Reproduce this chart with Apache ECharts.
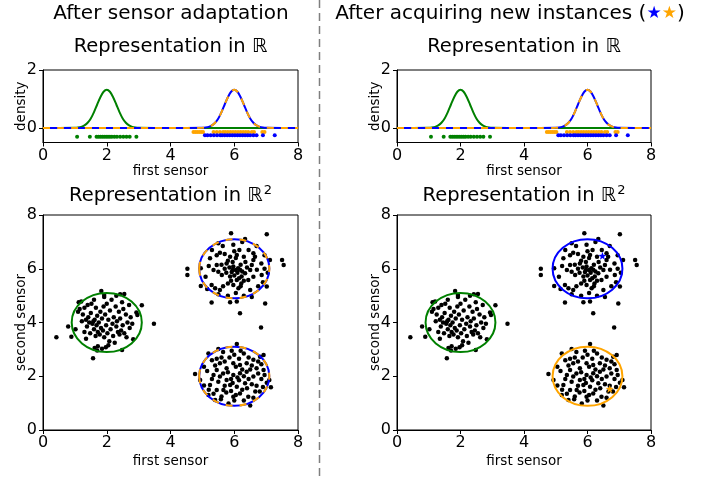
<!DOCTYPE html>
<html><head><meta charset="utf-8">
<script src="https://cdn.jsdelivr.net/npm/echarts@6/dist/echarts.min.js"></script>
<style>html,body{margin:0;padding:0;background:#fff}#c{width:709px;height:477px}</style>
</head><body><div id="c"></div>
<script>
// ---------- data ----------
const densityX = [0, 0.5, 1.0, 1.1, 1.2, 1.3, 1.4, 1.5, 1.6, 1.7, 1.8, 1.9, 2.0, 2.1, 2.2, 2.3, 2.4, 2.5, 2.6, 2.7, 2.8, 2.9, 3.0, 3.5, 4.0, 4.5, 5.0, 5.1, 5.2, 5.3, 5.4, 5.5, 5.6, 5.7, 5.8, 5.9, 6.0, 6.1, 6.2, 6.3, 6.4, 6.5, 6.6, 6.7, 6.8, 6.9, 7.0, 7.5, 8.0];
const greenDensity = [0, 0, 0.005, 0.015, 0.038, 0.088, 0.18, 0.33, 0.55, 0.81, 1.06, 1.25, 1.32, 1.25, 1.06, 0.81, 0.55, 0.33, 0.18, 0.088, 0.038, 0.015, 0.005, 0, 0, 0, 0, 0, 0, 0, 0, 0, 0, 0, 0, 0, 0, 0, 0, 0, 0, 0, 0, 0, 0, 0, 0, 0, 0];
const blueDensity = [0, 0, 0, 0, 0, 0, 0, 0, 0, 0, 0, 0, 0, 0, 0, 0, 0, 0, 0, 0, 0, 0, 0, 0, 0, 0, 0.005, 0.015, 0.038, 0.088, 0.18, 0.33, 0.55, 0.81, 1.06, 1.25, 1.32, 1.25, 1.06, 0.81, 0.55, 0.33, 0.18, 0.088, 0.038, 0.015, 0.005, 0, 0];
const orangeDensity = [0, 0, 0, 0, 0, 0, 0, 0, 0, 0, 0, 0, 0, 0, 0, 0, 0, 0, 0, 0, 0, 0, 0, 0, 0, 0, 0.005, 0.015, 0.038, 0.088, 0.18, 0.33, 0.55, 0.81, 1.06, 1.25, 1.32, 1.25, 1.06, 0.81, 0.55, 0.33, 0.18, 0.088, 0.038, 0.015, 0.005, 0, 0];

const greenRugX = [1.07, 1.47, 1.68, 1.74, 1.8, 1.86, 1.92, 1.98, 2.04, 2.1, 2.16, 2.24, 2.32, 2.42, 2.52, 2.62, 2.72, 2.93];
const orangeRugX = [4.72, 4.78, 4.84, 4.9, 4.96, 5.02, 5.35, 5.45, 5.55, 5.65, 5.72, 5.8, 5.88, 5.96, 6.04, 6.12, 6.2, 6.28, 6.36, 6.44, 6.55, 6.62, 6.88, 6.95];
const blueRugX = [5.08, 5.16, 5.26, 5.36, 5.46, 5.56, 5.62, 5.7, 5.78, 5.86, 5.94, 6.02, 6.1, 6.18, 6.26, 6.34, 6.42, 6.5, 6.6, 6.7, 6.9, 7.27];
const greenRugY = -0.3;
const orangeRugY = -0.14;
const blueRugY = -0.25;

const greenCluster = [[0.42,3.45],[0.79,3.85],[0.89,3.47],[1.57,2.67],[3.48,3.95],[3.1,4.64],[1.83,5.17],[1.92,5.02],[1.92,4.95],[2.42,5.05],[2.55,5.06],[1.2,4.78],[2.93,4.37],[2.96,4.28],[2.83,3.38],[2.48,2.98],[1.62,3.05],[1.72,3.12],[1.85,3.02],[1.97,3.08],[1.7,2.96],[1.1,4.4],[1.15,4.5],[1.25,4.3],[1.3,4.55],[1.35,4.1],[1.38,3.85],[1.42,4.2],[1.45,4.0],[1.48,3.6],[1.5,4.35],[1.52,4.7],[1.55,3.95],[1.58,4.05],[1.6,3.75],[1.62,4.1],[1.65,3.5],[1.66,4.55],[1.68,3.9],[1.7,4.25],[1.72,3.65],[1.75,4.0],[1.78,3.55],[1.8,4.4],[1.82,3.8],[1.85,4.15],[1.88,3.7],[1.9,4.6],[1.92,3.45],[1.95,4.3],[1.98,3.9],[2.0,4.7],[2.02,3.6],[2.05,4.1],[2.08,3.3],[2.1,4.45],[2.12,3.75],[2.15,4.85],[2.18,3.95],[2.2,3.5],[2.22,4.2],[2.25,3.25],[2.28,4.6],[2.3,3.85],[2.32,4.05],[2.35,3.65],[2.38,4.4],[2.4,3.55],[2.42,4.15],[2.45,3.7],[2.48,4.75],[2.5,3.9],[2.52,4.5],[2.55,3.6],[2.6,4.3],[2.62,3.45],[2.65,4.0],[2.7,4.65],[2.72,3.8],[2.75,4.2],[2.8,3.95],[1.3,3.65],[1.22,4.05],[1.4,4.65],[1.6,4.85],[1.35,3.4],[2.05,3.15],[2.3,5.0],[1.02,3.75],[1.12,4.75]];
const upperCluster = [[5.9,7.32],[6.34,7.11],[7.02,7.28],[5.5,6.95],[5.64,6.85],[5.97,6.89],[6.16,6.7],[6.08,6.51],[5.87,6.45],[6.6,6.58],[5.24,6.39],[6.6,6.33],[7.12,6.33],[7.5,6.33],[7.55,6.14],[4.53,6.0],[4.53,5.77],[4.95,6.02],[5.45,6.14],[5.76,6.2],[5.97,6.08],[6.18,5.96],[6.34,5.83],[6.55,6.14],[6.71,5.96],[6.86,5.77],[5.5,5.89],[5.61,5.77],[5.87,5.71],[6.08,5.58],[6.23,5.71],[6.44,5.58],[5.97,5.4],[6.13,5.27],[5.29,5.4],[5.4,5.27],[5.55,5.21],[6.5,5.21],[7.02,5.34],[4.95,5.36],[5.29,4.74],[5.87,4.75],[6.08,4.78],[6.97,4.71],[6.18,4.34],[6.84,3.81],[5.7,6.55],[5.8,6.3],[5.95,6.25],[6.05,6.4],[6.2,6.15],[6.3,6.45],[6.4,6.05],[6.25,5.9],[6.1,5.85],[5.95,5.95],[5.85,6.05],[5.7,6.0],[5.6,6.15],[5.75,5.85],[6.0,5.75],[6.15,5.65],[6.3,5.55],[5.9,5.55],[5.8,5.45],[6.05,5.1],[6.2,5.35],[6.35,6.25],[6.45,6.7],[6.7,6.85],[6.95,6.5],[6.85,6.2],[6.9,5.5],[6.75,5.35],[6.6,5.7],[5.35,5.95],[5.2,6.1],[5.45,6.5],[5.3,6.7],[5.55,6.6],[6.25,7.0],[6.0,6.65],[6.5,5.95],[6.05,5.95],[6.12,6.02],[5.92,5.88],[6.22,5.45],[5.65,5.35],[5.5,5.05],[6.3,5.0],[6.55,4.95],[5.8,5.0],[6.95,6.0],[7.05,5.85],[5.1,5.7],[5.15,5.25],[6.65,6.45]];
const lowerCluster = [[6.08,3.2],[5.5,3.01],[5.92,2.95],[6.92,2.79],[5.19,2.85],[4.77,2.08],[4.93,1.86],[5.05,1.66],[5.19,1.3],[5.4,1.12],[5.58,1.14],[5.82,0.99],[6.5,0.91],[6.66,1.43],[6.8,1.43],[7.02,1.76],[7.15,1.59],[7.1,1.86],[6.92,2.23],[6.81,2.73],[6.6,2.61],[6.39,2.48],[6.18,2.42],[5.97,2.48],[5.76,2.3],[5.55,2.48],[5.45,2.23],[5.35,2.05],[5.55,1.99],[5.76,1.86],[5.97,2.05],[6.18,2.11],[6.39,2.17],[6.6,1.99],[6.34,1.74],[6.08,1.61],[5.87,1.67],[5.66,1.49],[5.45,1.49],[5.24,1.67],[6.18,1.36],[6.44,1.24],[5.97,1.24],[5.3,2.6],[5.4,2.4],[5.6,2.7],[5.7,2.55],[5.85,2.7],[6.0,2.8],[6.15,2.65],[6.3,2.85],[6.45,2.7],[6.55,2.4],[6.7,2.3],[6.85,2.45],[6.95,2.05],[6.75,2.1],[6.5,2.25],[6.3,2.0],[6.1,1.95],[5.9,1.9],[5.65,2.1],[5.5,1.8],[5.3,1.9],[5.15,2.2],[5.05,2.35],[5.2,1.5],[5.35,1.35],[5.6,1.25],[5.75,1.4],[5.9,1.45],[6.05,1.3],[6.25,1.5],[6.4,1.55],[6.55,1.7],[6.7,1.65],[6.85,1.9],[6.9,1.6],[6.6,1.2],[6.3,1.1],[6.0,1.1],[5.7,1.65],[5.95,1.75],[6.15,1.85],[6.25,2.25],[6.45,1.9],[5.8,2.15],[6.05,2.35],[5.45,2.65],[6.75,2.55],[6.2,2.95],[5.65,2.9]];

const greenEllipse = [2.0, 4.0, 1.1, 1.1];
const upperEllipse = [6.0, 6.0, 1.1, 1.1];
const lowerEllipse = [6.0, 2.0, 1.1, 1.1];
const blueStar = [6.47, 6.48];
const orangeStar = [6.7, 1.53];
const axisTicks = [0, 2, 4, 6, 8];
const densityTicks = [0, 2];

// ---------- styles ----------
const FONT = 'DejaVu Sans';
const GREEN = '#008000', BLUE = '#0000ff', ORANGE = '#ffa500';
const DASH = [7, 7];
const STAR = 'path://M0,-10 L2.35,-3.24 L9.51,-3.09 L3.8,1.24 L5.88,8.09 L0,4 L-5.88,8.09 L-3.8,1.24 L-9.51,-3.09 L-2.35,-3.24 Z';

const chart = echarts.init(document.getElementById('c'), null, {renderer: 'canvas'});

const grids = [
  {left: 43, top: 70, width: 255, height: 72.5},
  {left: 397, top: 70, width: 254, height: 72.5},
  {left: 43, top: 215, width: 255, height: 215},
  {left: 397, top: 215, width: 254, height: 215}
].map(g => Object.assign({show: true, borderColor: '#000', borderWidth: 1, backgroundColor: 'transparent', containLabel: false}, g));

function xAx(gi, gap) {
  return {
    gridIndex: gi, type: 'value', min: 0, max: 8, interval: 2,
    name: 'first sensor', nameLocation: 'middle', nameGap: gap,
    nameTextStyle: {fontFamily: FONT, fontSize: 13.5, color: '#000'},
    axisLine: {show: true, onZero: false, lineStyle: {color: '#000', width: 1}},
    axisTick: {show: true, inside: false, length: 4, customValues: axisTicks, lineStyle: {color: '#000'}},
    axisLabel: {fontFamily: FONT, fontSize: 16, color: '#000', margin: 5, customValues: axisTicks},
    splitLine: {show: false}
  };
}
function yAxDensity(gi) {
  return {
    gridIndex: gi, type: 'value', min: -0.5, max: 2,
    name: 'density', nameLocation: 'middle', nameGap: 15, nameMoveOverlap: false,
    nameTextStyle: {fontFamily: FONT, fontSize: 13.5, color: '#000'},
    axisLine: {show: true, onZero: false, lineStyle: {color: '#000', width: 1}},
    axisTick: {show: true, inside: false, length: 4, customValues: densityTicks, lineStyle: {color: '#000'}},
    axisLabel: {fontFamily: FONT, fontSize: 16, color: '#000', margin: 6, customValues: densityTicks},
    splitLine: {show: false}
  };
}
function yAxSensor(gi) {
  return {
    gridIndex: gi, type: 'value', min: 0, max: 8, interval: 2,
    name: 'second sensor', nameLocation: 'middle', nameGap: 15, nameMoveOverlap: false,
    nameTextStyle: {fontFamily: FONT, fontSize: 13.5, color: '#000'},
    axisLine: {show: true, onZero: false, lineStyle: {color: '#000', width: 1}},
    axisTick: {show: true, inside: false, length: 4, customValues: axisTicks, lineStyle: {color: '#000'}},
    axisLabel: {fontFamily: FONT, fontSize: 16, color: '#000', margin: 6, customValues: axisTicks},
    splitLine: {show: false}
  };
}

function zipXY(xs, ys) { return xs.map((x, i) => [x, ys[i]]); }
function rug(xs, y) { return xs.map(x => [x, y]); }

function densitySeries(ai) {
  return [
    {type: 'line', xAxisIndex: ai, yAxisIndex: ai, data: zipXY(densityX, greenDensity), showSymbol: false, smooth: 0.3, lineStyle: {color: GREEN, width: 2}, z: 2, silent: true},
    {type: 'line', xAxisIndex: ai, yAxisIndex: ai, data: zipXY(densityX, blueDensity), showSymbol: false, smooth: 0.3, lineStyle: {color: BLUE, width: 2}, z: 3, silent: true},
    {type: 'line', xAxisIndex: ai, yAxisIndex: ai, data: zipXY(densityX, orangeDensity), showSymbol: false, smooth: 0.3, lineStyle: {color: ORANGE, width: 2, type: DASH}, z: 4, silent: true},
    {type: 'scatter', xAxisIndex: ai, yAxisIndex: ai, data: rug(greenRugX, greenRugY), symbolSize: 4, itemStyle: {color: GREEN, opacity: 1}, z: 5, silent: true},
    {type: 'scatter', xAxisIndex: ai, yAxisIndex: ai, data: rug(orangeRugX, orangeRugY), symbolSize: 4, itemStyle: {color: ORANGE, opacity: 1}, z: 5, silent: true},
    {type: 'scatter', xAxisIndex: ai, yAxisIndex: ai, data: rug(blueRugX, blueRugY), symbolSize: 4, itemStyle: {color: BLUE, opacity: 1}, z: 6, silent: true}
  ];
}

function ellipseSeries(ai, e, color, dash, z) {
  return {
    type: 'custom', xAxisIndex: ai, yAxisIndex: ai, data: [e], z: z, silent: true,
    encode: {x: 0, y: 1},
    renderItem: function (params, api) {
      const c = api.coord([api.value(0), api.value(1)]);
      const s = api.size([api.value(2), api.value(3)]);
      return {type: 'ellipse', shape: {cx: c[0], cy: c[1], rx: s[0], ry: s[1]},
        style: {fill: 'none', stroke: color, lineWidth: 2, lineDash: dash}};
    }
  };
}

function pointsSeries(ai) {
  return {type: 'scatter', xAxisIndex: ai, yAxisIndex: ai, data: greenCluster.concat(upperCluster, lowerCluster),
    symbolSize: 4.5, itemStyle: {color: '#000', opacity: 1}, z: 3, silent: true};
}

const series = [].concat(
  densitySeries(0), densitySeries(1),
  [pointsSeries(2),
   ellipseSeries(2, greenEllipse, GREEN, null, 4),
   ellipseSeries(2, upperEllipse, BLUE, null, 4),
   ellipseSeries(2, upperEllipse, ORANGE, DASH, 5),
   ellipseSeries(2, lowerEllipse, BLUE, null, 4),
   ellipseSeries(2, lowerEllipse, ORANGE, DASH, 5),
   pointsSeries(3),
   ellipseSeries(3, greenEllipse, GREEN, null, 4),
   ellipseSeries(3, upperEllipse, BLUE, null, 4),
   ellipseSeries(3, lowerEllipse, ORANGE, null, 4),
   {type: 'scatter', xAxisIndex: 3, yAxisIndex: 3, data: [blueStar], symbol: STAR, symbolSize: 8, itemStyle: {color: BLUE, opacity: 1}, z: 6, silent: true},
   {type: 'scatter', xAxisIndex: 3, yAxisIndex: 3, data: [orangeStar], symbol: STAR, symbolSize: 8, itemStyle: {color: ORANGE, opacity: 1}, z: 6, silent: true}
  ]
);

const graphic = [
  {type: 'line', shape: {x1: 319.5, y1: 0, x2: 319.5, y2: 477}, style: {stroke: '#7f7f7f', lineWidth: 1.5, lineDash: [8, 5]}, silent: true},
  {type: 'text', x: 171, y: 14, style: {text: 'After sensor adaptation', align: 'center', verticalAlign: 'middle', fontFamily: FONT, fontSize: 20, fill: '#000'}},
  {type: 'text', x: 510, y: 14, style: {text: '{a|After acquiring new instances (}{b|★}{c|★}{a|)}', align: 'center', verticalAlign: 'middle',
    rich: {a: {fontFamily: FONT, fontSize: 20, fill: '#000'}, b: {fontFamily: FONT, fontSize: 17, fill: BLUE}, c: {fontFamily: FONT, fontSize: 17, fill: ORANGE}}}},
  {type: 'text', x: 170.5, y: 47, style: {text: 'Representation in ℝ', align: 'center', verticalAlign: 'middle', fontFamily: FONT, fontSize: 19.5, fill: '#000'}},
  {type: 'text', x: 524, y: 47, style: {text: 'Representation in ℝ', align: 'center', verticalAlign: 'middle', fontFamily: FONT, fontSize: 19.5, fill: '#000'}},
  {type: 'text', x: 170.5, y: 196, style: {text: '{a|Representation in ℝ}{s|2}', align: 'center', verticalAlign: 'middle',
    rich: {a: {fontFamily: FONT, fontSize: 19.5, fill: '#000'}, s: {fontFamily: FONT, fontSize: 13, fill: '#000', padding: [0, 0, 10, 1]}}}},
  {type: 'text', x: 524, y: 196, style: {text: '{a|Representation in ℝ}{s|2}', align: 'center', verticalAlign: 'middle',
    rich: {a: {fontFamily: FONT, fontSize: 19.5, fill: '#000'}, s: {fontFamily: FONT, fontSize: 13, fill: '#000', padding: [0, 0, 10, 1]}}}}
];

chart.setOption({
  animation: false,
  backgroundColor: '#fff',
  textStyle: {fontFamily: FONT},
  grid: grids,
  xAxis: [xAx(0, 21), xAx(1, 21), xAx(2, 24), xAx(3, 24)],
  yAxis: [yAxDensity(0), yAxDensity(1), yAxSensor(2), yAxSensor(3)],
  series: series,
  graphic: graphic
});
</script>
</body></html>
